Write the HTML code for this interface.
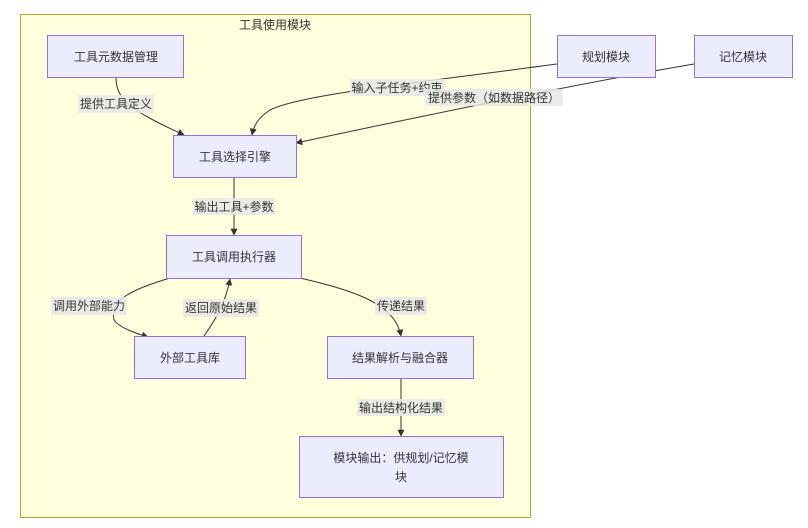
<!DOCTYPE html>
<html><head><meta charset="utf-8"><style>
html,body{margin:0;padding:0;background:#fff;}
svg{display:block;}
text{font-family:"Liberation Sans","Noto Sans CJK SC",sans-serif;font-size:12px;fill:#333;}
.n{fill:#ECECFF;stroke:#9370DB;stroke-width:1;}
.e{fill:none;stroke:#333;stroke-width:1;}
.lb{fill:#e8e8e8;opacity:0.85;}
</style></head><body>
<svg width="808" height="528" viewBox="0 0 808 528">
<defs><marker id="a" viewBox="0 0 10 10" refX="9" refY="5" markerWidth="7" markerHeight="7" orient="auto"><path d="M0,0L10,5L0,10z" fill="#333"/></marker></defs>
<rect x="20.5" y="14.5" width="510" height="503" fill="#ffffde" stroke="#aaaa33"/>
<text x="275" y="29" text-anchor="middle">工具使用模块</text>

<!-- edges -->
<path class="e" d="M116,77 C116,100 130,110 184,135" marker-end="url(#a)"/>
<path class="e" d="M557,64 C400,85 300,95 270,110 C258,118 254,125 252,135" marker-end="url(#a)"/>
<path class="e" d="M694,64 C600,80 450,110 296,143" marker-end="url(#a)"/>
<path class="e" d="M234,177 L234,235" marker-end="url(#a)"/>
<path class="e" d="M170,278 C130,290 110,300 114,320 C120,328 135,333 148,337" marker-end="url(#a)"/>
<path class="e" d="M204,336 C215,320 225,305 230,279" marker-end="url(#a)"/>
<path class="e" d="M300,278 C360,292 395,305 401,336" marker-end="url(#a)"/>
<path class="e" d="M401,378 L401,436" marker-end="url(#a)"/>

<!-- nodes -->
<rect class="n" x="47.5" y="35.5" width="136" height="42"/><text x="116" y="61" text-anchor="middle">工具元数据管理</text>
<rect class="n" x="557.5" y="35.5" width="98" height="42"/><text x="606" y="61" text-anchor="middle">规划模块</text>
<rect class="n" x="694.5" y="35.5" width="98" height="42"/><text x="743" y="61" text-anchor="middle">记忆模块</text>
<rect class="n" x="173.5" y="135.5" width="123" height="42"/><text x="235" y="161" text-anchor="middle">工具选择引擎</text>
<rect class="n" x="166.5" y="235.5" width="135" height="43"/><text x="234" y="261" text-anchor="middle">工具调用执行器</text>
<rect class="n" x="134.5" y="336.5" width="111" height="42"/><text x="190" y="362" text-anchor="middle">外部工具库</text>
<rect class="n" x="327.5" y="336.5" width="146" height="42"/><text x="400" y="362" text-anchor="middle">结果解析与融合器</text>
<rect class="n" x="299.5" y="436.5" width="204" height="61"/>
<text x="401" y="462" text-anchor="middle">模块输出：供规划/记忆模</text>
<text x="401" y="481" text-anchor="middle">块</text>

<!-- labels -->
<rect class="lb" x="78" y="95" width="76" height="18"/><text x="116" y="108" text-anchor="middle">提供工具定义</text>
<rect class="lb" x="350" y="79" width="95" height="17"/><text x="397" y="92" text-anchor="middle">输入子任务+约束</text>
<rect class="lb" x="425" y="89" width="138" height="17"/><text x="494" y="102" text-anchor="middle">提供参数（如数据路径）</text>
<rect class="lb" x="193" y="198" width="82" height="17"/><text x="234" y="211" text-anchor="middle">输出工具+参数</text>
<rect class="lb" x="51" y="297" width="76" height="18"/><text x="89" y="310" text-anchor="middle">调用外部能力</text>
<rect class="lb" x="183" y="299" width="76" height="18"/><text x="221" y="312" text-anchor="middle">返回原始结果</text>
<rect class="lb" x="375" y="297" width="52" height="18"/><text x="401" y="310" text-anchor="middle">传递结果</text>
<rect class="lb" x="357" y="399" width="88" height="17"/><text x="401" y="412" text-anchor="middle">输出结构化结果</text>
</svg>
</body></html>
